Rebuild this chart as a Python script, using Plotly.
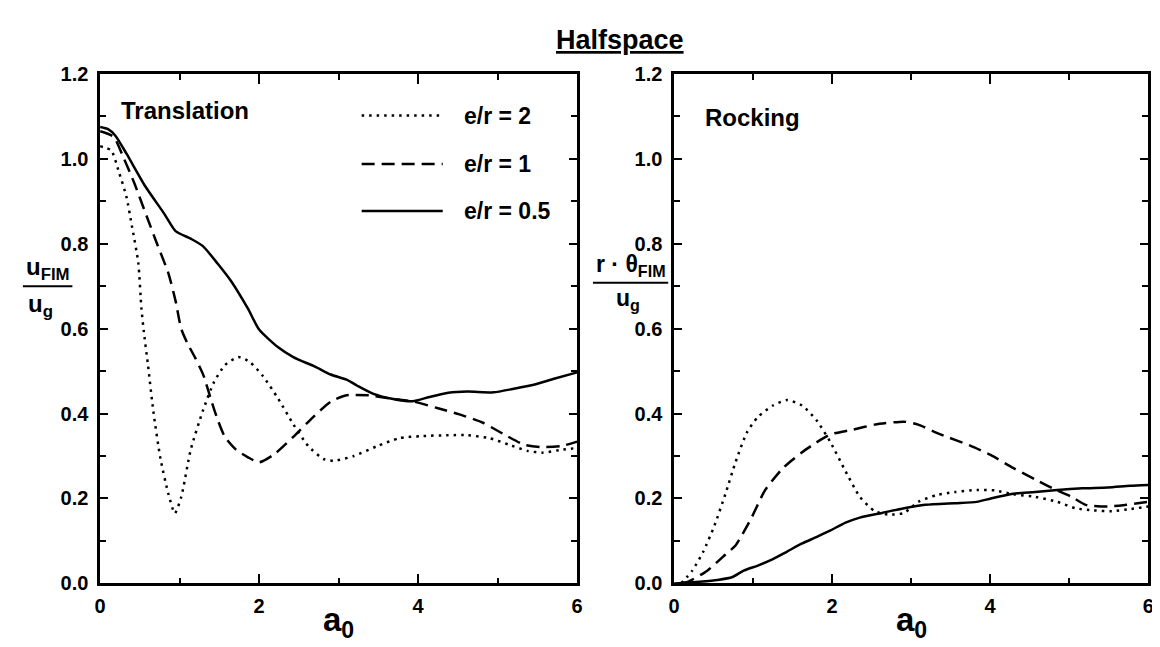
import plotly.graph_objects as go

# ---------------- data ----------------
# Translation panel (left): u_FIM / u_g versus a0
a0_tr_er2 = [0.0, 0.14, 0.24, 0.33, 0.40, 0.48, 0.52, 0.55, 0.60, 0.67, 0.76, 0.86, 0.94,
             1.02, 1.14, 1.29, 1.43, 1.57, 1.74, 1.88, 2.05, 2.24, 2.43, 2.62, 2.81, 2.95,
             3.19, 3.48, 3.76, 4.05, 4.38, 4.62, 4.90, 5.14, 5.38, 5.57, 5.81, 6.0]
u_tr_er2 = [1.03, 1.02, 0.967, 0.912, 0.842, 0.756, 0.647, 0.593, 0.518, 0.405, 0.293, 0.21, 0.165,
            0.203, 0.315, 0.405, 0.473, 0.514, 0.533, 0.522, 0.488, 0.435, 0.375, 0.323, 0.293, 0.289,
            0.30, 0.323, 0.342, 0.347, 0.349, 0.349, 0.342, 0.327, 0.312, 0.308, 0.315, 0.319]

a0_tr_er1 = [0.0, 0.17, 0.29, 0.43, 0.57, 0.71, 0.86, 0.95, 1.02, 1.10, 1.20, 1.30, 1.40, 1.48, 1.57,
             1.71, 1.86, 2.0, 2.19, 2.43, 2.67, 2.90, 3.10, 3.38, 3.67, 3.95, 4.24, 4.52, 4.81,
             5.10, 5.33, 5.57, 5.81, 6.0]
u_tr_er1 = [1.065, 1.052, 1.005, 0.943, 0.873, 0.803, 0.73, 0.665, 0.60, 0.565, 0.53, 0.49, 0.43, 0.385, 0.345,
            0.315, 0.297, 0.285, 0.304, 0.345, 0.39, 0.428, 0.443, 0.443, 0.435, 0.428, 0.413, 0.398, 0.379,
            0.349, 0.327, 0.321, 0.324, 0.334]

a0_tr_er05 = [0.0, 0.10, 0.19, 0.33, 0.57, 0.81, 0.95, 1.14, 1.29, 1.48, 1.64, 1.86, 2.0, 2.24,
              2.43, 2.71, 2.90, 3.10, 3.24, 3.43, 3.67, 3.93, 4.14, 4.38, 4.62, 4.95, 5.19, 5.48,
              5.71, 6.0]
u_tr_er05 = [1.075, 1.07, 1.055, 1.013, 0.935, 0.87, 0.83, 0.812, 0.795, 0.753, 0.714, 0.647, 0.598, 0.556,
             0.533, 0.51, 0.492, 0.48, 0.465, 0.447, 0.435, 0.429, 0.439, 0.449, 0.452, 0.45, 0.458, 0.469,
             0.482, 0.497]

# Rocking panel (right): r*theta_FIM / u_g versus a0
a0_rk_er2 = [0.09, 0.23, 0.37, 0.51, 0.65, 0.78, 0.92, 1.06, 1.25, 1.43, 1.62, 1.80, 1.98, 2.17,
             2.35, 2.54, 2.72, 2.91, 3.09, 3.32, 3.55, 3.83, 4.06, 4.29, 4.57, 4.85, 5.08, 5.31,
             5.54, 5.77, 6.0]
th_rk_er2 = [0.0, 0.03, 0.075, 0.136, 0.211, 0.287, 0.355, 0.392, 0.419, 0.432, 0.419, 0.385, 0.332, 0.264,
             0.204, 0.17, 0.162, 0.166, 0.192, 0.208, 0.215, 0.22, 0.219, 0.21, 0.204, 0.192, 0.177, 0.172,
             0.17, 0.175, 0.181]

a0_rk_er1 = [0.10, 0.18, 0.42, 0.65, 0.78, 0.97, 1.15, 1.38, 1.62, 1.80, 1.98, 2.26, 2.54, 2.91,
             3.09, 3.37, 3.74, 4.01, 4.29, 4.57, 4.80, 5.03, 5.21, 5.49, 5.72, 6.0]
th_rk_er1 = [0.0, 0.004, 0.03, 0.068, 0.09, 0.151, 0.219, 0.272, 0.309, 0.332, 0.351, 0.362, 0.374, 0.381,
             0.374, 0.351, 0.325, 0.302, 0.272, 0.245, 0.223, 0.204, 0.185, 0.181, 0.185, 0.192]

a0_rk_er05 = [0.0, 0.32, 0.55, 0.74, 0.88, 1.06, 1.25, 1.43, 1.62, 1.80, 1.98, 2.17, 2.35, 2.63,
              2.91, 3.18, 3.55, 3.83, 4.01, 4.29, 4.57, 4.85, 5.17, 5.49, 5.77, 6.0]
th_rk_er05 = [0.0, 0.004, 0.008, 0.015, 0.03, 0.042, 0.057, 0.075, 0.094, 0.109, 0.125, 0.143, 0.155, 0.166,
              0.177, 0.185, 0.189, 0.192, 0.20, 0.211, 0.215, 0.22, 0.224, 0.226, 0.23, 0.232]

series_labels = ["e/r = 2", "e/r = 1", "e/r = 0.5"]
x_tick_vals = [0, 2, 4, 6]
y_tick_vals = [0.0, 0.2, 0.4, 0.6, 0.8, 1.0, 1.2]

# ---------------- styles ----------------
FONT = "Liberation Sans, Arial, Helvetica, sans-serif"
BLACK = "#000000"
DASHES = ["2.5px,5px", "13px,7px", "solid"]
LW = 2.5


def f(size):
    return dict(family=FONT, size=size, color=BLACK, weight="bold")


fig = go.Figure()

left_series = [(a0_tr_er2, u_tr_er2), (a0_tr_er1, u_tr_er1), (a0_tr_er05, u_tr_er05)]
right_series = [(a0_rk_er2, th_rk_er2), (a0_rk_er1, th_rk_er1), (a0_rk_er05, th_rk_er05)]

for (xs, ys), lab, dash in zip(left_series, series_labels, DASHES):
    fig.add_trace(go.Scatter(x=xs, y=ys, mode="lines", name=lab, showlegend=False,
                             line=dict(color=BLACK, width=LW, dash=dash, shape="spline", smoothing=0.6),
                             xaxis="x", yaxis="y"))
for (xs, ys), lab, dash in zip(right_series, series_labels, DASHES):
    fig.add_trace(go.Scatter(x=xs, y=ys, mode="lines", name=lab, showlegend=False,
                             line=dict(color=BLACK, width=LW, dash=dash, shape="spline", smoothing=0.6),
                             xaxis="x2", yaxis="y2"))

tickfont = f(20)


def xax(domain, anchor):
    return dict(domain=domain, anchor=anchor, range=[0, 6], tickvals=x_tick_vals,
                ticks="inside", ticklen=10, tickwidth=2, tickcolor=BLACK,
                minor=dict(dtick=1, tick0=0, ticks="inside", ticklen=6, tickwidth=2, tickcolor=BLACK),
                showline=True, linewidth=2.5, linecolor=BLACK, mirror="ticks",
                showgrid=False, zeroline=False, tickfont=tickfont, ticklabelstandoff=3)


def yax(domain, anchor):
    return dict(domain=domain, anchor=anchor, range=[0, 1.2], tickvals=y_tick_vals, tickformat=".1f",
                ticks="inside", ticklen=8, tickwidth=2, tickcolor=BLACK,
                minor=dict(dtick=0.1, tick0=0, ticks="inside", ticklen=6, tickwidth=2, tickcolor=BLACK),
                showline=True, linewidth=2.5, linecolor=BLACK, mirror="ticks",
                showgrid=False, zeroline=False, tickfont=tickfont, ticklabelstandoff=5)


fig.update_layout(
    width=1160, height=647,
    margin=dict(l=0, r=0, t=0, b=0),
    paper_bgcolor="white", plot_bgcolor="white",
    showlegend=False,
    xaxis=xax([0.075, 0.4905], "y"),
    yaxis=yax([0.097, 0.912], "x"),
    xaxis2=xax([0.575, 0.988], "y2"),
    yaxis2=yax([0.097, 0.912], "x2"),
    font=dict(family=FONT, color=BLACK),
)

ann = []
# title
ann.append(dict(text="<u>Halfspace</u>", xref="paper", yref="paper", x=0.528, y=0.966,
                showarrow=False, font=f(27), xanchor="center", yanchor="middle"))
# panel labels
ann.append(dict(text="Translation", xref="x", yref="y", x=0.24, y=1.114, showarrow=False,
                xanchor="left", yanchor="middle", font=f(24)))
ann.append(dict(text="Rocking", xref="x2", yref="y2", x=0.37, y=1.098, showarrow=False,
                xanchor="left", yanchor="middle", font=f(24)))
# legend labels + key lines
legend_y = [1.102, 0.988, 0.877]
shapes = []
for lab, dash, ly in zip(series_labels, DASHES, legend_y):
    ann.append(dict(text=lab, xref="x", yref="y", x=4.55, y=ly, showarrow=False,
                    xanchor="left", yanchor="middle", font=f(23)))
    shapes.append(dict(type="line", xref="x", yref="y", x0=3.29, x1=4.31, y0=ly, y1=ly,
                       line=dict(color=BLACK, width=LW, dash=dash)))
# y-axis fraction labels
ann.append(dict(text="u<sub>FIM</sub>", xref="paper", yref="y", x=34 / 1160, y=0.742, showarrow=False,
                xanchor="center", yanchor="middle", font=f(24)))
shapes.append(dict(type="line", xref="paper", yref="y", x0=9 / 1160, x1=59 / 1160, y0=0.70, y1=0.70,
                   line=dict(color=BLACK, width=2)))
ann.append(dict(text="u<sub>g</sub>", xref="paper", yref="y", x=27 / 1160, y=0.655, showarrow=False,
                xanchor="center", yanchor="middle", font=f(24)))

ann.append(dict(text="r · θ<sub>FIM</sub>", xref="paper", yref="y2", x=623 / 1160, y=0.748, showarrow=False,
                xanchor="center", yanchor="middle", font=f(23)))
shapes.append(dict(type="line", xref="paper", yref="y2", x0=585 / 1160, x1=661 / 1160, y0=0.708, y1=0.708,
                   line=dict(color=BLACK, width=2)))
ann.append(dict(text="u<sub>g</sub>", xref="paper", yref="y2", x=620 / 1160, y=0.668, showarrow=False,
                xanchor="center", yanchor="middle", font=f(23)))
# x-axis titles
for xr in ["x", "x2"]:
    ann.append(dict(text="a<sub>0</sub>", xref=xr, yref="paper", x=3.0, y=0.035, showarrow=False,
                    xanchor="center", yanchor="middle", font=f(33)))

fig.update_layout(annotations=ann, shapes=shapes)

fig.write_html("out.html")
